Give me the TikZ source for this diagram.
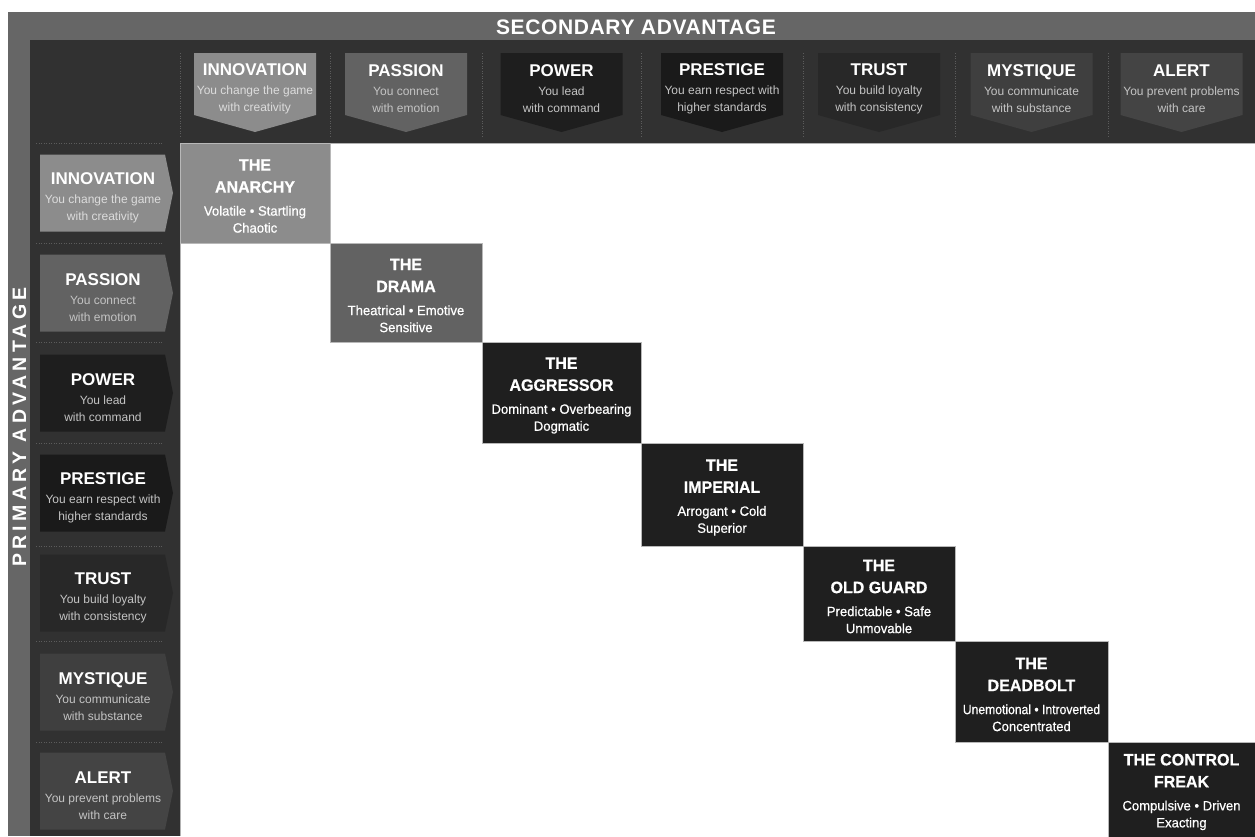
\documentclass[tikz,border=0pt]{standalone}
\usepackage{fontspec}
\setmainfont{Liberation Sans}
\newfontfamily\traitfont[FakeBold=0.6,FakeStretch=0.97]{Liberation Sans}
\newfontfamily\traitnarrow[FakeBold=0.6,FakeStretch=0.9]{Liberation Sans}
\newfontfamily\primfont[LetterSpace=22]{Liberation Sans}
\newfontfamily\secfont[LetterSpace=3]{Liberation Sans}
\definecolor{band}{HTML}{666666}
\definecolor{panel}{HTML}{313131}
\definecolor{gInno}{HTML}{8C8C8C}
\definecolor{gPass}{HTML}{626262}
\definecolor{gPow}{HTML}{1E1E1E}
\definecolor{gPres}{HTML}{1A1A1A}
\definecolor{gTrust}{HTML}{282828}
\definecolor{gMyst}{HTML}{3F3F3F}
\definecolor{gAlert}{HTML}{444444}
\definecolor{cellD}{HTML}{1F1F1F}
\definecolor{dots}{HTML}{5C5C5C}
\definecolor{subtxt}{HTML}{C4C4C4}
\definecolor{subtxtL}{HTML}{DCDCDC}
\newcommand\hdt{\bfseries\fontsize{17}{17}\selectfont\color{white}}
\newcommand\ttl{\bfseries\fontsize{16.5}{17}\selectfont}
\tikzset{
  bandtext/.style={text=white, font=\bfseries\fontsize{21}{21}\selectfont, inner sep=0},
  hdrtext/.style={text=subtxt, align=center, font=\fontsize{12}{17}\selectfont, inner sep=0},
  cellbox/.style={draw=white!72!black, line width=0.6pt, inner sep=0, minimum width=#1},
  cellbox/.default=152,
  celltext/.style={text=white, align=center, font=\traitfont\fontsize{13.5}{17}\selectfont, inner sep=0},
  dotline/.style={draw=dots, line width=1pt, dash pattern=on 1pt off 1.5pt}
}
\begin{document}
\begin{tikzpicture}[x=1pt,y=-1pt]
\useasboundingbox (0,0) rectangle (1255,836);
\fill[white] (0,0) rectangle (1255,836);
% bands and panels
\fill[band] (8,12) rectangle (1255,836);
\fill[panel] (30,40) rectangle (1255,143);
\fill[panel] (30,40) rectangle (180,836);
\fill[white] (180,143) rectangle (1255,836);
\node[bandtext] (sec) at (636,27) {\secfont\bfseries SECONDARY ADVANTAGE};
\node[bandtext, rotate=90] (prim) at (19.5,427) {\primfont\bfseries\fontsize{19.5}{19.5}\selectfont PRIMARY ADVANTAGE};
% separators
\foreach \x in {180,330,482,641,803,955,1108}
  \draw[dotline] (\x,53) -- (\x,137);
\foreach \y in {143,243,342,443,546,641,742}
  \draw[dotline] (36,\y) -- (163,\y);
% column headers
\foreach \cx/\col/\tc/\nm/\la/\lb [count=\i] in {
  255/gInno/subtxtL/INNOVATION/You change the game/with creativity,
  406/gPass/subtxt/PASSION/You connect/with emotion,
  561.5/gPow/subtxt/POWER/You lead/with command,
  722/gPres/subtxt/PRESTIGE/You earn respect with/higher standards,
  879/gTrust/subtxt/TRUST/You build loyalty/with consistency,
  1031.5/gMyst/subtxt/MYSTIQUE/You communicate/with substance,
  1181.5/gAlert/subtxt/ALERT/You prevent problems/with care}{
  \fill[\col] ({\cx-61},53) -- ({\cx+61},53) -- ({\cx+61},115) -- (\cx,132) -- ({\cx-61},115) -- cycle;
  \node[hdrtext, text=\tc] (ch\i) at (\cx,89) {{\hdt \nm}\\[2pt]\la\\\lb};
}
% row headers
\foreach \cy/\col/\tc/\nm/\la/\lb [count=\i] in {
  193/gInno/subtxtL/INNOVATION/You change the game/with creativity,
  293/gPass/subtxt/PASSION/You connect/with emotion,
  393/gPow/subtxt/POWER/You lead/with command,
  493/gPres/subtxt/PRESTIGE/You earn respect with/higher standards,
  593/gTrust/subtxt/TRUST/You build loyalty/with consistency,
  692/gMyst/subtxt/MYSTIQUE/You communicate/with substance,
  791/gAlert/subtxt/ALERT/You prevent problems/with care}{
  \fill[\col] (40,{\cy-38.5}) -- (165,{\cy-38.5}) -- (173,\cy) -- (165,{\cy+38.5}) -- (40,{\cy+38.5}) -- cycle;
  \node[hdrtext, text=\tc] (rh\i) at (103,{\cy+5}) {{\hdt \nm}\\[2pt]\la\\\lb};
}
% edge lines
\draw[white!70!black, line width=0.7pt] (180,143) -- (1255,143);
\draw[white!70!black, line width=0.7pt] (180,143) -- (180,836);
% diagonal cells
\node[cellbox=150, fill=gInno, minimum height=100] (c1) at (255,193) {};
\node[cellbox=152, fill=gPass, minimum height=99] (c2) at (406,292.5) {};
\node[cellbox=159, fill=cellD, minimum height=101] (c3) at (561.5,392.5) {};
\node[cellbox=162, fill=cellD, minimum height=103] (c4) at (722,494.5) {};
\node[cellbox=152, fill=cellD, minimum height=95] (c5) at (879,593.5) {};
\node[cellbox=153, fill=cellD, minimum height=101] (c6) at (1031.5,691.5) {};
\node[cellbox=147, fill=cellD, minimum height=100] (c7) at (1181.5,792) {};
\node[celltext] (t1) at (255,196) {{\ttl THE}\\[5pt]{\ttl ANARCHY}\\[6pt]Volatile • Startling\\Chaotic};
\node[celltext] (t2) at (406,295.5) {{\ttl THE}\\[5pt]{\ttl DRAMA}\\[6pt]Theatrical • Emotive\\Sensitive};
\node[celltext] (t3) at (561.5,395.5) {{\ttl THE}\\[5pt]{\ttl AGGRESSOR}\\[6pt]Dominant • Overbearing\\Dogmatic};
\node[celltext] (t4) at (722,497.5) {{\ttl THE}\\[5pt]{\ttl IMPERIAL}\\[6pt]Arrogant • Cold\\Superior};
\node[celltext] (t5) at (879,596.5) {{\ttl THE}\\[5pt]{\ttl OLD GUARD}\\[6pt]Predictable • Safe\\Unmovable};
\node[celltext] (t6) at (1031.5,694.5) {{\ttl THE}\\[5pt]{\ttl DEADBOLT}\\[6pt]{\traitnarrow Unemotional • Introverted}\\Concentrated};
\node[celltext] (t7) at (1181.5,792) {{\ttl THE CONTROL}\\[5pt]{\ttl FREAK}\\[6pt]Compulsive • Driven\\Exacting};
\end{tikzpicture}
\end{document}
